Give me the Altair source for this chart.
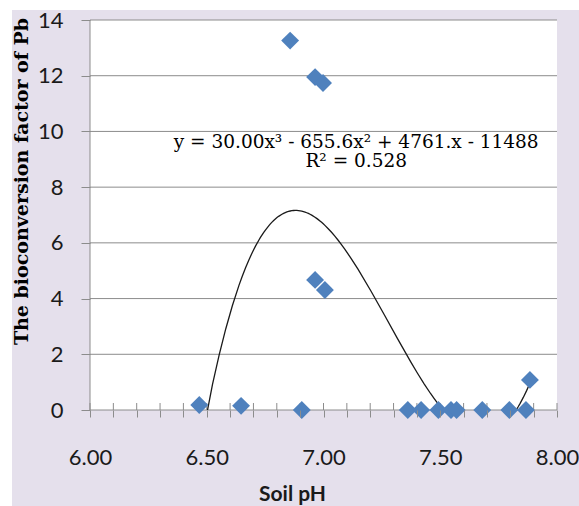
import altair as alt
import pandas as pd

# ---- data ----
ph = [6.468, 6.647, 6.907, 6.857, 6.964, 6.998, 6.964, 7.006, 7.361, 7.418,
      7.492, 7.546, 7.570, 7.680, 7.796, 7.867, 7.884]
bcf = [0.18, 0.15, 0.0, 13.26, 11.95, 11.74, 4.67, 4.31, 0.0, 0.0,
       0.0, 0.0, 0.0, 0.0, 0.0, 0.0, 1.08]
x_ticks = [6.0, 6.1, 6.2, 6.3, 6.4, 6.5, 6.6, 6.7, 6.8, 6.9, 7.0,
           7.1, 7.2, 7.3, 7.4, 7.5, 7.6, 7.7, 7.8, 7.9, 8.0]
y_ticks = [0, 2, 4, 6, 8, 10, 12, 14]
eq_lines = ["y = 30.00x³ - 655.6x² + 4761.x - 11488", "R² = 0.528"]
eq_x = [7.14, 7.14]
eq_y = [9.62, 8.94]

df = pd.DataFrame({"pH": ph, "BCF": bcf})
grid_df = pd.DataFrame({"v": y_ticks})
xt_df = pd.DataFrame({"t": x_ticks})
eq_df = pd.DataFrame({"line": eq_lines, "ex": eq_x, "ey": eq_y})

W, H = 467, 390
LAV = "#E5E0EC"
GRID = "#8c8c8c"
BLUE = "#4F81BD"
TXT = "#1a1a1a"

xs = alt.Scale(domain=[6, 8], nice=False, zero=False)
ys = alt.Scale(domain=[0, 14], nice=False)
one = alt.Data(values=[{}])

xaxis = alt.Axis(values=x_ticks,
                 labelExpr="abs(datum.value*2 - round(datum.value*2)) < 0.001 ? format(datum.value, '.2f') : ''",
                 tickSize=7, tickColor=GRID, domain=False, grid=False,
                 labelFont="Lato", labelFontSize=22, labelColor=TXT,
                 labelPadding=30, labelOverlap=False, labelFlush=False,
                 title="Soil pH", titleFont="Lato", titleFontWeight="bold",
                 titleFontSize=21, titleColor=TXT, titleX=202, titleY=84,
                 titleBaseline="middle", titleAlign="center", zindex=1)
yaxis = alt.Axis(values=y_ticks, tickSize=9, tickColor=GRID, domain=False,
                 grid=False, labelFont="Lato", labelFontSize=22,
                 labelColor=TXT, labelPadding=18, labelOverlap=False,
                 labelFlush=False,
                 title="The bioconversion factor of Pb",
                 titleFont="DejaVu Serif", titleFontWeight="bold",
                 titleFontSize=19, titleColor="black", titleAngle=270,
                 titleX=-69, titleY=161, titleBaseline="middle",
                 titleAlign="center", zindex=1)

bg = alt.Chart(one).mark_rect(color=LAV).encode(
    x=alt.value(-78), x2=alt.value(489), y=alt.value(-10), y2=alt.value(486))
plot_bg = alt.Chart(one).mark_rect(color="white").encode(
    x=alt.value(0), x2=alt.value(W), y=alt.value(0), y2=alt.value(H))

grid = alt.Chart(grid_df).mark_rule(color=GRID, strokeWidth=1).encode(
    y=alt.Y("v:Q", scale=ys, axis=yaxis), x=alt.value(0), x2=alt.value(W))
yline = alt.Chart(one).mark_rule(color=GRID, strokeWidth=1).encode(
    x=alt.value(0), y=alt.value(0), y2=alt.value(H))
inner_ticks = alt.Chart(xt_df).mark_rule(color=GRID, strokeWidth=1).encode(
    x=alt.X("t:Q", scale=xs, axis=xaxis), y=alt.value(H - 7), y2=alt.value(H))

curve = alt.Chart(df).transform_regression(
    "pH", "BCF", method="poly", order=3
).mark_line(clip=True, color=TXT, strokeWidth=1.3).encode(
    x=alt.X("pH:Q", scale=xs, axis=xaxis),
    y=alt.Y("BCF:Q", scale=ys, axis=yaxis))

points = alt.Chart(df).mark_point(shape="diamond", filled=True, size=320,
                                  color=BLUE, opacity=1).encode(
    x=alt.X("pH:Q", scale=xs, axis=xaxis),
    y=alt.Y("BCF:Q", scale=ys, axis=yaxis))

eq = alt.Chart(eq_df).mark_text(font="DejaVu Serif", fontSize=18.5,
                                color="black", baseline="middle",
                                align="center").encode(
    x=alt.X("ex:Q", scale=xs, axis=xaxis),
    y=alt.Y("ey:Q", scale=ys, axis=yaxis),
    text="line:N")

chart = alt.layer(bg, plot_bg, grid, yline, inner_ticks, curve, points, eq).properties(
    width=W, height=H,
    autosize=alt.AutoSizeParams(type="none"),
    padding={"left": 90, "top": 20, "right": 22, "bottom": 96},
    background="white",
).configure_view(stroke=None)

chart.save("out.html", embed_options={"renderer": "svg", "actions": False})
